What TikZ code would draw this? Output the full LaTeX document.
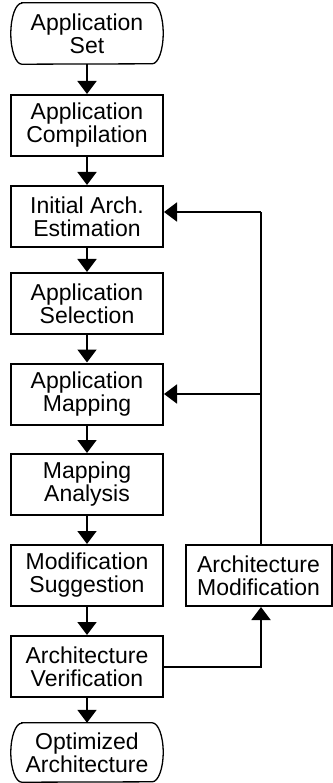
\documentclass[tikz,border=0pt]{standalone}
\usepackage{fontspec}
\setmainfont{Liberation Sans}
\usetikzlibrary{arrows.meta,calc}
\begin{document}
\begin{tikzpicture}[x=1pt,y=-1pt,
  every node/.style={font=\fontsize{23}{23}\selectfont, align=center, inner sep=0pt},
  stepbox/.style={draw, line width=2pt, minimum width=152pt, minimum height=61pt},
  termbox/.style={minimum width=152pt, minimum height=61pt},
  flow/.style={line width=2pt, -{Triangle[width=19pt,length=13pt]}},
  link/.style={line width=2pt}
]
\useasboundingbox (0,0) rectangle (332,783);
\node[termbox] (set) at (87,33.5) {Application\\Set};
\node[stepbox] (comp) at (87,125.5) {Application\\Compilation};
\node[stepbox] (init) at (87,216.5) {Initial Arch.\\Estimation};
\node[stepbox] (sel) at (87,303.5) {Application\\Selection};
\node[stepbox] (map) at (87,394) {Application\\Mapping};
\node[stepbox] (ana) at (87,484.5) {Mapping\\Analysis};
\node[stepbox] (sug) at (87,575.5) {Modification\\Suggestion};
\node[stepbox] (ver) at (87,666.5) {Architecture\\Verification};
\node[termbox, minimum height=59pt] (opt) at (87,752.5) {Optimized\\Architecture};
\node[stepbox, minimum width=146pt] (am) at (258.5,575.5) {Architecture\\Modification};
% terminal outlines
\draw[line width=1.3pt] ($(set.north west)+(11,0)$) -- ($(set.north east)+(-11,0)$)
  arc[start angle=90, end angle=-90, x radius=11pt, y radius=30.5pt]
  -- ($(set.south west)+(11,0)$)
  arc[start angle=270, end angle=90, x radius=11pt, y radius=30.5pt] -- cycle;
\draw[line width=1.3pt] ($(opt.north west)+(11,0)$) -- ($(opt.north east)+(-11,0)$)
  arc[start angle=90, end angle=-90, x radius=11pt, y radius=29.5pt]
  -- ($(opt.south west)+(11,0)$)
  arc[start angle=270, end angle=90, x radius=11pt, y radius=29.5pt] -- cycle;
\draw[flow] (set) -- (comp);
\draw[flow] (comp) -- (init);
\draw[flow] (init) -- (sel);
\draw[flow] (sel) -- (map);
\draw[flow] (map) -- (ana);
\draw[flow] (ana) -- (sug);
\draw[flow] (sug) -- (ver);
\draw[flow] (ver) -- (opt);
\draw[flow] (ver.east) -| ([xshift=2.5pt]am.south);
\coordinate (top) at ([xshift=2.5pt]am.north |- 0,212);
\draw[link] ([xshift=2.5pt]am.north) -- (top);
\draw[flow] (top) -- ([yshift=4.5pt]init.east);
\draw[flow] ([xshift=2.5pt]am.north |- map.east) -- (map.east);
\end{tikzpicture}
\end{document}
